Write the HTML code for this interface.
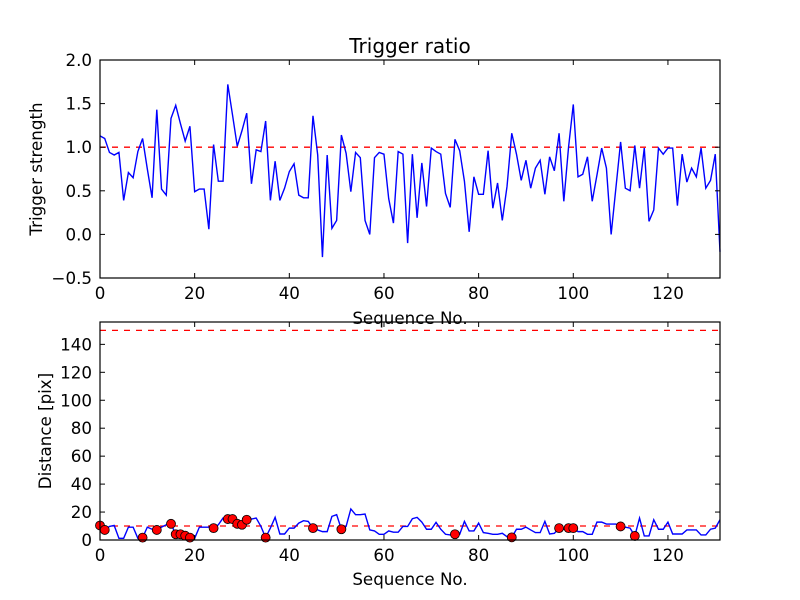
<!DOCTYPE html>
<html><head><meta charset="utf-8"><style>
html,body{margin:0;padding:0;background:#fff}
svg{display:block;font-family:"DejaVu Sans","Liberation Sans",sans-serif}
</style></head><body>
<svg id="chart" width="800" height="600" viewBox="0 0 800 600">
<rect x="0" y="0" width="800" height="600" fill="#fff"/>
<text x="410" y="53" font-size="20" text-anchor="middle">Trigger ratio</text>
<g id="top"></g>
<g id="bot"></g>
</svg>
<script>
const strength = [1.13,1.10,0.94,0.91,0.94,0.39,0.71,0.65,0.95,1.10,0.75,0.42,1.43,0.52,0.45,1.33,1.48,1.27,1.07,1.24,
0.49,0.52,0.52,0.06,1.03,0.61,0.61,1.72,1.37,1.01,1.19,1.39,0.58,0.97,0.95,1.30,0.39,0.84,0.39,0.53,
0.72,0.81,0.45,0.42,0.42,1.36,0.91,-0.26,0.91,0.07,0.16,1.14,0.93,0.49,0.94,0.88,0.16,0.00,0.88,0.94,
0.92,0.41,0.13,0.95,0.92,-0.10,0.92,0.19,0.82,0.32,0.99,0.95,0.92,0.47,0.31,1.09,0.96,0.61,0.03,0.66,
0.46,0.46,0.96,0.30,0.59,0.16,0.55,1.16,0.92,0.62,0.85,0.53,0.76,0.85,0.46,0.89,0.73,1.16,0.38,1.00,
1.49,0.66,0.69,0.89,0.38,0.68,0.99,0.76,0.00,0.53,1.06,0.53,0.50,1.02,0.53,0.99,0.15,0.28,0.99,0.92,
0.99,0.99,0.33,0.92,0.60,0.76,0.66,0.99,0.53,0.62,0.92,-0.20];
const distance = [10.4,7.2,9.7,10.4,1.2,1.2,9.2,9.2,1.2,1.7,9.2,7.7,7.2,9.2,10.9,11.6,4.1,4.1,3.1,1.7,
1.2,9.2,9.2,9.2,8.5,10.9,15.7,15.0,15.0,11.6,10.9,14.5,15.0,15.7,9.7,1.7,8.5,16.2,4.3,4.3,
8.5,8.5,12.1,13.8,13.3,8.5,7.2,6.0,6.0,16.9,18.1,7.7,9.7,22.2,18.1,18.1,18.6,7.2,6.5,4.1,
4.1,6.5,5.6,5.6,9.7,9.7,15.2,16.2,12.8,7.7,7.7,12.6,7.7,4.1,3.6,4.1,4.1,13.3,6.5,6.5,
12.1,5.3,4.8,4.1,4.1,4.8,2.4,1.9,7.7,7.7,9.2,7.2,5.3,5.3,13.3,4.3,4.8,8.5,7.7,8.5,
8.5,6.0,6.0,4.1,4.1,12.8,12.8,11.4,11.4,11.4,9.7,9.2,8.5,2.9,15.7,2.9,2.9,14.5,7.7,7.7,
12.8,4.3,4.3,4.3,7.2,7.2,7.2,3.6,3.6,7.7,8.5,14.5];
const markerIdx = [0,1,9,12,15,16,17,18,19,24,27,28,29,30,31,35,45,51,75,87,97,99,100,110,113];
const xTicks = [0,20,40,60,80,100,120];
const topYTicks = [-0.5,0.0,0.5,1.0,1.5,2.0];
const botYTicks = [0,20,40,60,80,100,120,140];
const topThreshold = [1.0];
const botThresholds = [10,150];

const NS="http://www.w3.org/2000/svg";
function mk(parent,tag,attrs){const e=document.createElementNS(NS,tag);for(const k in attrs)e.setAttribute(k,attrs[k]);parent.appendChild(e);return e;}
const X0=100,X1=720,XMAX=131,FS=16.7;
const sx=v=>X0+(v/XMAX)*(X1-X0);

function drawFrame(g,top,bottom,sy,yticks,fmt,ylabel,ylabx,tickLabY,xlabY,pref){
  const f=mk(g,'rect',{x:X0,y:top,width:X1-X0,height:bottom-top,fill:'none',stroke:'#000','stroke-width':1.2});
  
  
  xTicks.forEach(t=>{const x=sx(t);
    mk(g,'line',{x1:x,x2:x,y1:bottom,y2:bottom-5,stroke:'#000'});
    mk(g,'line',{x1:x,x2:x,y1:top,y2:top+5,stroke:'#000'});
    const tx=mk(g,'text',{x:x,y:tickLabY,'font-size':FS,'text-anchor':'middle'});tx.textContent=t;
    
    
  });
  yticks.forEach(t=>{const y=sy(t);
    mk(g,'line',{x1:X0,x2:X0+5,y1:y,y2:y,stroke:'#000'});
    mk(g,'line',{x1:X1,x2:X1-5,y1:y,y2:y,stroke:'#000'});
    const tx=mk(g,'text',{x:92,y:y+6,'font-size':FS,'text-anchor':'end'});tx.textContent=fmt(t);
    
    
  });
  const yl=mk(g,'text',{x:ylabx,y:(top+bottom)/2,'font-size':FS,'text-anchor':'middle',transform:`rotate(-90 ${ylabx} ${(top+bottom)/2})`});
  yl.textContent=ylabel;
  
  
  const xl=mk(g,'text',{x:410,y:xlabY,'font-size':FS,'text-anchor':'middle'});
  xl.textContent='Sequence No.';
  
  
}

// top chart
const gt=document.getElementById('top');
const T0=60,T1=278,sy1=v=>T1-(v+0.5)/2.5*(T1-T0);
topThreshold.forEach(v=>{const l=mk(gt,'line',{x1:X0,x2:X1,y1:sy1(v),y2:sy1(v),stroke:'#f00','stroke-width':1.3,'stroke-dasharray':'6,6'});
  
  });
const p1=mk(gt,'polyline',{points:strength.map((v,i)=>sx(i)+','+sy1(v)).join(' '),fill:'none',stroke:'#00f','stroke-width':1.4});


drawFrame(gt,T0,T1,sy1,topYTicks,t=>t.toFixed(1).replace('-','\u2212'),'Trigger strength',42,299,324,'top');

// bottom chart
const gb=document.getElementById('bot');
const B0=322,B1=540,sy2=v=>B1-v/156*(B1-B0);
botThresholds.forEach(v=>{const l=mk(gb,'line',{x1:X0,x2:X1,y1:sy2(v),y2:sy2(v),stroke:'#f00','stroke-width':1.3,'stroke-dasharray':'6,6'});
  
  });
const p2=mk(gb,'polyline',{points:distance.map((v,i)=>sx(i)+','+sy2(v)).join(' '),fill:'none',stroke:'#00f','stroke-width':1.4});


markerIdx.forEach(i=>{const c=mk(gb,'circle',{cx:sx(i),cy:sy2(distance[i]),r:4.5,fill:'#f00',stroke:'#000','stroke-width':0.8});
  
  });
drawFrame(gb,B0,B1,sy2,botYTicks,t=>String(t),'Distance [pix]',51,561,585,'bottom');
</script>
</body></html>
